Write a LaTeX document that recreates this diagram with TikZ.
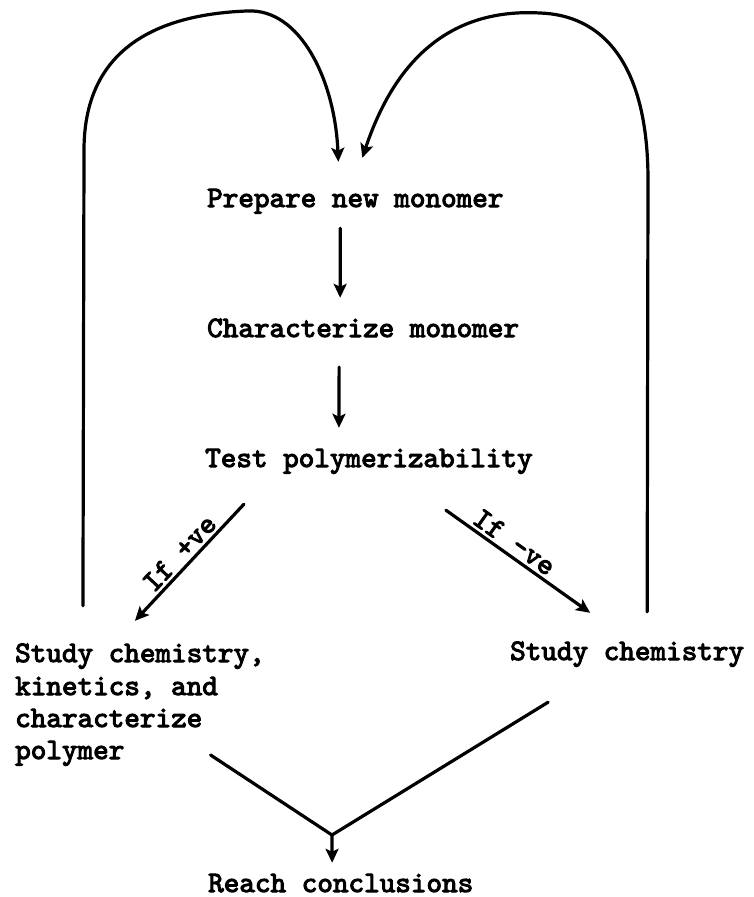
\documentclass[tikz,border=0pt]{standalone}
\usepackage{fontspec}
\usetikzlibrary{arrows.meta,calc}
\newfontfamily\twf{lmmono10-regular}[Extension=.otf,FakeBold=3.5]
\begin{document}
\begin{tikzpicture}[x=1pt,y=-1pt,
  txt/.style={anchor=base west,inner sep=0pt,text height=19pt,text depth=5pt,
    font=\twf\fontsize{29.7}{32}\selectfont},
  lab/.style={sloped,above,inner sep=3pt,font=\twf\fontsize{29.7}{32}\selectfont},
  conn/.style={line width=3.2pt,line cap=round,line join=round},
  arr/.style={conn,-{Stealth[length=14pt,width=13pt,inset=3pt]}}]
\useasboundingbox (0,0) rectangle (753,897);

% text nodes
\node[txt] (prep)  at (207,207) {Prepare new monomer};
\node[txt] (char)  at (207,337) {Characterize monomer};
\node[txt] (test)  at (205,467) {Test polymerizability};
\node[txt] (l1)    at (15,662)  {Study chemistry,};
\node[txt] (l2)    at (15,695)  {kinetics, and};
\node[txt] (l3)    at (15,727)  {characterize};
\node[txt] (l4)    at (15,759)  {polymer};
\node[txt] (r1)    at (510,660) {Study chemistry};
\node[txt] (reach) at (208,892) {Reach conclusions};

% straight arrows
\draw[arr] ($(prep.south)+(-15,16)$) -- ($(char.north)+(-23,-20)$);
\draw[arr] ($(char.south)+(-24,25)$) -- ($(test.north)+(-30,-20)$);
\draw[arr] ($(test.south)+(-125,32)$) -- node[lab,pos=0.5] {If +ve} ($(l1.north)+(-5,-22)$);
\draw[arr] ($(test.south)+(77,38)$) -- node[lab,pos=0.42] {If -ve} ($(r1.north)+(-37,-28)$);

% feedback loops
\coordinate (lb) at ($(l1.north)+(-57,-37)$);
\coordinate (rb) at ($(r1.north)+(20,-29)$);
\draw[arr] (lb) -- (84,150) .. controls (84,40) and (170,14) .. (247,11)
  .. controls (300,8) and (335,80) .. ($(prep.north)+(-17,-26)$);
\draw[arr] (rb) -- (648,180) .. controls (648,60) and (600,15) .. (540,13)
  .. controls (450,8) and (395,60) .. ($(prep.north)+(7,-30)$);

% merge
\coordinate (m) at (332,835);
\draw[conn] ($(l4.east)+(86,3)$) -- (m) -- ($(r1.south)+(-79,37)$);
\draw[arr] (m) -- ($(reach.north)+(-8.6,-10)$);
\end{tikzpicture}
\end{document}
